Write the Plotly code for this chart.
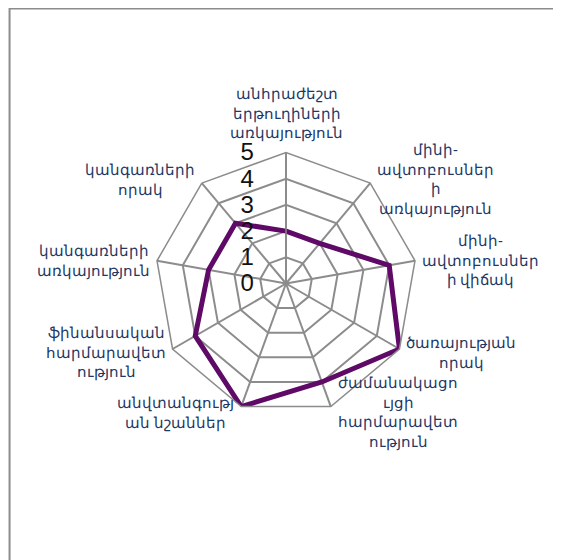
import math
import plotly.graph_objects as go

categories = [
    "անհրաժեշտ<br>երթուղիների<br>առկայություն",
    "մինի-<br>ավտոբուսներ<br>ի<br>առկայություն",
    "մինի-<br>ավտոբուսներ<br>ի վիճակ",
    "ծառայության<br>որակ",
    "ժամանակացո<br>ւյցի<br>հարմարավետ<br>ություն",
    "անվտանգությ<br>ան նշաններ",
    "ֆինանսական<br>հարմարավետ<br>ություն",
    "կանգառների<br>առկայություն",
    "կանգառների<br>որակ",
]
values = [2, 2, 4, 5, 4, 5, 4, 3, 3]
tick_vals = [0, 1, 2, 3, 4, 5]
r_max = 5

# page has an 8px body margin, figure is drawn inside it
W, H = 553, 552
cx, cy = 278.0, 275.5          # polar centre in figure pixels
w = 263.0                      # polar domain square size
R = w / 2
ml, mt = cx - R, cy - R
mr, mb = W - ml - w, H - mt - w

def px(x):
    return (x - ml) / w

def py(y):
    return (H - mb - y) / w

fig = go.Figure()
fig.add_trace(go.Scatterpolar(
    r=values + values[:1],
    theta=categories + categories[:1],
    mode="lines",
    line=dict(color="#5E0A66", width=5),
    showlegend=False,
    hoverinfo="skip",
))

# category labels as centred multi-line annotations just outside each vertex
annotations = []
n = len(categories)
for i, cat in enumerate(categories):
    th = 2 * math.pi * i / n
    s, c = math.sin(th), math.cos(th)
    vx, vy = cx + R * s, cy - R * c
    if abs(s) < 0.3:
        xa, ya = "center", "bottom"
        x, y = vx, vy - 8
    elif s > 0:
        xa, ya = "left", "middle"
        x, y = vx + 5, vy - 5 * c
    else:
        xa, ya = "right", "middle"
        x, y = vx - 5, vy - 5 * c
    annotations.append(dict(
        text=cat, xref="paper", yref="paper", x=px(x), y=py(y),
        xanchor=xa, yanchor=ya, align="center", showarrow=False,
        font=dict(family="Noto Sans", size=15, color="#1F3864"),
    ))

fig.update_layout(
    width=W, height=H,
    margin=dict(l=ml, r=mr, t=mt, b=mb, autoexpand=False),
    paper_bgcolor="white",
    plot_bgcolor="white",
    annotations=annotations,
    polar=dict(
        domain=dict(x=[0, 1], y=[0, 1]),
        bgcolor="white",
        gridshape="linear",
        angularaxis=dict(
            rotation=90,
            direction="clockwise",
            showgrid=True,
            gridcolor="#8c8c8c",
            gridwidth=1.5,
            showline=True,
            linecolor="#8c8c8c",
            linewidth=1.5,
            ticks="",
            showticklabels=False,
        ),
        radialaxis=dict(
            range=[0, r_max],
            tickvals=tick_vals,
            ticktext=[str(v) for v in tick_vals],
            angle=90,
            tickangle=90,
            side="counterclockwise",
            showline=True,
            linecolor="#8c8c8c",
            linewidth=1.5,
            showgrid=True,
            gridcolor="#8c8c8c",
            gridwidth=1.5,
            ticks="outside",
            ticklen=23,
            tickcolor="rgba(0,0,0,0)",
            tickfont=dict(family="Liberation Sans Narrow, Liberation Sans", size=24, color="#111111"),
        ),
    ),
    shapes=[
        dict(type="rect", xref="paper", yref="paper",
             x0=px(0.5), x1=px(W + 50), y0=py(H + 50), y1=py(0.5),
             line=dict(color="#8c8c8c", width=2), fillcolor="rgba(0,0,0,0)"),
    ],
)

fig.write_html("out.html")
